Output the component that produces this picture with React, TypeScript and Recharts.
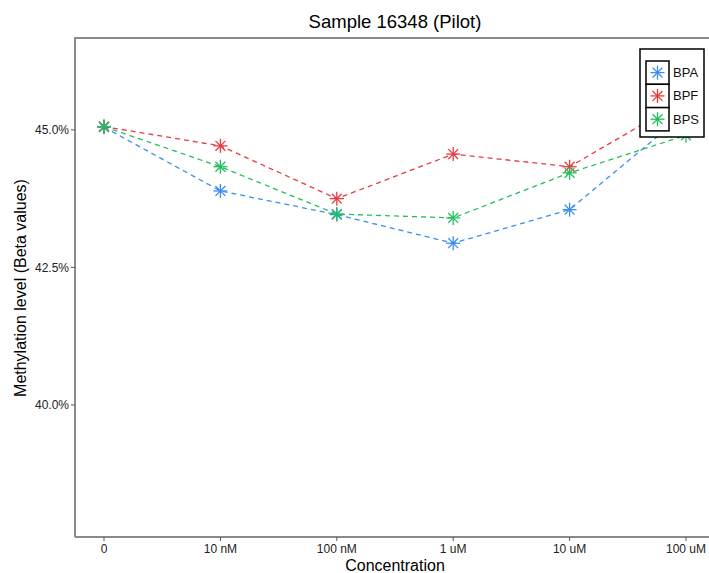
import React from 'react';
import { LineChart, Line, XAxis, YAxis } from 'recharts';

// concentrations on the x axis
const concentrations = ['0', '10 nM', '100 nM', '1 uM', '10 uM', '100 uM'];

// methylation level (%) per compound
const bpa = [45.05, 43.89, 43.46, 42.94, 43.55, 45.31];
const bpf = [45.06, 44.71, 43.75, 44.56, 44.33, 45.56];
const bps = [45.06, 44.33, 43.47, 43.4, 44.22, 44.9];

const yTicks = [40, 42.5, 45];

const series = [
  { key: 'BPA', color: '#3b8eef', values: bpa },
  { key: 'BPF', color: '#ea3a40', values: bpf },
  { key: 'BPS', color: '#20bf5c', values: bps }
];

const data = concentrations.map((c, i) => ({
  conc: c,
  BPA: bpa[i],
  BPF: bpf[i],
  BPS: bps[i]
}));

const FONT = '"Liberation Sans", Arial, sans-serif';

function Star({ cx, cy, color, r = 7 }: { cx: number; cy: number; color: string; r?: number }) {
  const d = r * 0.7071;
  return (
    <g stroke={color} strokeWidth={1.3}>
      <line x1={cx - r} y1={cy} x2={cx + r} y2={cy} />
      <line x1={cx} y1={cy - r} x2={cx} y2={cy + r} />
      <line x1={cx - d} y1={cy - d} x2={cx + d} y2={cy + d} />
      <line x1={cx - d} y1={cy + d} x2={cx + d} y2={cy - d} />
    </g>
  );
}

// legend drawn as a fixed box in the top right, like the ggplot one
function LegendBox() {
  return (
    <svg
      width={66}
      height={90}
      style={{ position: 'absolute', left: 639, top: 48, display: 'block' }}
    >
      <rect x={1} y={1} width={64} height={88} fill="#fff" stroke="#000" strokeWidth={1.5} />
      {series.map((s, i) => (
        <g key={s.key}>
          <rect x={7} y={13 + i * 23.3} width={23} height={23.3} fill="#fff" stroke="#000" strokeWidth={1.5} />
          <Star cx={18.5} cy={13 + i * 23.3 + 11.6} color={s.color} r={7} />
          <text
            x={34}
            y={13 + i * 23.3 + 16}
            fontFamily={FONT}
            fontSize={13}
            fill="#111"
          >
            {s.key}
          </text>
        </g>
      ))}
    </svg>
  );
}

export default function App() {
  return (
    <div
      style={{
        position: 'fixed',
        left: 0,
        top: 0,
        width: 709,
        height: 573,
        overflow: 'hidden',
        background: '#fff'
      }}
    >
      <div
        style={{
          position: 'absolute',
          top: 11,
          left: 75,
          width: 640,
          textAlign: 'center',
          fontFamily: FONT,
          fontSize: 18.5,
          lineHeight: '22px',
          color: '#000'
        }}
      >
        Sample 16348 (Pilot)
      </div>
      <div
        style={{
          position: 'absolute',
          left: 21,
          top: 288,
          transform: 'translate(-50%, -50%) rotate(-90deg)',
          whiteSpace: 'nowrap',
          fontFamily: FONT,
          fontSize: 16,
          color: '#000'
        }}
      >
        Methylation level (Beta values)
      </div>
      <div
        style={{
          position: 'absolute',
          top: 557,
          left: 75,
          width: 640,
          textAlign: 'center',
          fontFamily: FONT,
          fontSize: 16,
          lineHeight: '18px',
          color: '#000'
        }}
      >
        Concentration
      </div>
      {/* top border of the panel */}
      <div
        style={{
          position: 'absolute',
          left: 74,
          top: 37,
          width: 660,
          height: 2,
          background: '#8a8a8a'
        }}
      />
      <LineChart
        width={720}
        height={573}
        data={data}
        margin={{ top: 38, right: 5, bottom: 0, left: 0 }}
        style={{ position: 'absolute', left: 0, top: 0 }}
      >
        <XAxis
          dataKey="conc"
          interval={0}
          padding={{ left: 29, right: 29 }}
          height={36}
          stroke="#8a8a8a"
          strokeWidth={2}
          tickSize={4}
          tickLine={{ stroke: '#555', strokeWidth: 1 }}
          tick={{ fill: '#222', fontSize: 12, fontFamily: FONT, dy: 1 }}
        />
        <YAxis
          domain={[37.6, 46.67]}
          ticks={yTicks}
          width={75}
          stroke="#8a8a8a"
          strokeWidth={2}
          tickSize={4}
          tickLine={{ stroke: '#555', strokeWidth: 1 }}
          tick={{ fill: '#222', fontSize: 12, fontFamily: FONT }}
          tickFormatter={(v) => `${Number(v).toFixed(1)}%`}
          allowDataOverflow
        />
        {series.map((s) => (
          <Line
            key={s.key}
            type="linear"
            dataKey={s.key}
            stroke={s.color}
            strokeWidth={1.3}
            strokeDasharray="5 4"
            isAnimationActive={false}
            activeDot={false}
            dot={(p: any) => <Star key={`${s.key}-${p.index}`} cx={p.cx} cy={p.cy} color={s.color} />}
          />
        ))}
      </LineChart>
      <LegendBox />
    </div>
  );
}
